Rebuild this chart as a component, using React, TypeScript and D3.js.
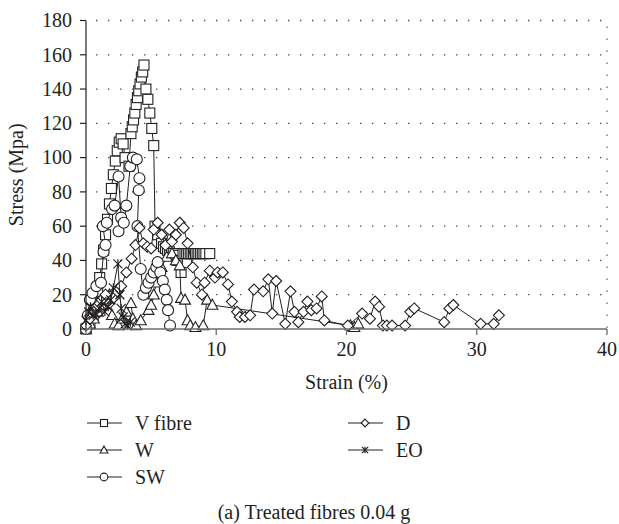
import React from 'react';
import * as d3 from 'd3';

// strain (%) / stress (MPa) pairs
const vFibre: [number, number][] = [
  [0, 0], [0.3, 3], [0.55, 8], [0.75, 15], [0.9, 22], [1.05, 30], [1.2, 38], [1.35, 46], [1.5, 55],
  [1.65, 64], [1.8, 73], [1.95, 82], [2.1, 90], [2.25, 98], [2.4, 104], [2.55, 109], [2.7, 111],
  [2.85, 108], [3.0, 100], [3.3, 95], [3.45, 114], [3.55, 118], [3.65, 122], [3.75, 126], [3.85, 131],
  [3.95, 135], [4.05, 139], [4.15, 143], [4.25, 147], [4.35, 150], [4.45, 154], [4.6, 140], [4.75, 134],
  [4.9, 126], [5.05, 117], [5.2, 107], [5.3, 60], [5.5, 55], [5.8, 50], [5.95, 48], [6.1, 47],
  [6.25, 46], [6.4, 45], [6.55, 44], [6.7, 44], [6.85, 43], [7.0, 40], [7.3, 33], [7.45, 44],
  [7.6, 44], [7.73, 44], [7.86, 44], [8.0, 44], [8.13, 44], [8.26, 44], [8.4, 44], [8.53, 44],
  [8.66, 44], [8.8, 44], [8.93, 44], [9.06, 44], [9.2, 44], [9.5, 44],
];
const w: [number, number][] = [
  [0, 0], [0.3, 3], [0.6, 6], [0.9, 10], [1.2, 14], [1.5, 17], [1.8, 20], [2.0, 8], [2.2, 3], [2.5, 2],
  [2.8, 6], [3.1, 10], [3.45, 15], [3.6, 6], [3.85, 2], [4.2, 5], [4.8, 11], [5.0, 14], [5.2, 20],
  [5.4, 27], [5.8, 36], [6.2, 42], [6.6, 44], [6.9, 40], [7.2, 37], [7.3, 18], [7.6, 17], [7.8, 5],
  [8.0, 2], [8.4, 1], [9.0, 2], [9.3, 17], [9.7, 14], [20.3, 2], [20.6, 1], [20.9, 3],
];
const sw: [number, number][] = [
  [0, 0], [0.15, 8], [0.3, 17], [0.5, 21], [0.8, 25], [1.15, 27], [1.35, 45], [1.5, 49], [1.3, 60],
  [1.6, 62], [2.0, 70], [2.2, 72], [2.5, 89], [2.7, 65], [2.5, 57], [2.9, 62], [3.1, 72], [3.4, 95],
  [3.6, 100], [3.9, 99], [4.1, 88], [4.05, 81], [3.95, 60], [4.2, 35], [4.4, 20], [4.6, 24], [4.8, 27],
  [5.0, 30], [5.2, 33], [5.4, 36], [5.5, 39], [5.7, 33], [5.9, 28], [6.05, 23], [6.2, 17], [6.3, 11],
  [6.45, 2],
];
const dSeries: [number, number][] = [
  [0, 2], [0.3, 6], [0.6, 10], [0.9, 14], [1.2, 17], [1.5, 20], [1.8, 15], [2.1, 18], [2.4, 22],
  [2.7, 25], [3.1, 33], [3.5, 41], [3.8, 49], [4.1, 59], [4.4, 50], [4.7, 48], [5.0, 47], [5.2, 58],
  [5.5, 62], [5.8, 55], [6.1, 49], [6.4, 58], [6.6, 51], [6.9, 55], [7.2, 62], [7.5, 59], [7.8, 50],
  [8.2, 36], [8.5, 27], [8.9, 20], [9.1, 27], [9.5, 34], [9.9, 30], [10.1, 33], [10.5, 33], [10.9, 26],
  [11.2, 16], [11.6, 10], [11.8, 7], [12.2, 7], [12.6, 8], [12.9, 23], [13.6, 22], [14.0, 29],
  [14.3, 9], [14.6, 28], [15.3, 3], [15.7, 22], [16.0, 10], [16.3, 4], [16.7, 10], [17.0, 16],
  [17.3, 11], [17.7, 12], [18.1, 19], [18.3, 5], [20.1, 2], [21.2, 9], [21.8, 6], [22.2, 16],
  [22.5, 13], [22.8, 2], [23.1, 2], [23.5, 2], [24.5, 2], [24.9, 10], [25.2, 12], [27.5, 4],
  [27.9, 12], [28.2, 14], [30.3, 3], [31.3, 3], [31.7, 8],
];
const eo: [number, number][] = [
  [0, 5], [0.2, 10], [0.35, 13], [0.55, 8], [0.75, 9], [1.0, 12], [1.2, 16], [1.45, 10], [1.7, 13],
  [1.9, 17], [2.1, 24], [2.45, 38], [2.6, 20], [2.7, 12], [2.85, 7], [3.0, 3], [3.2, 2], [3.4, 4],
];

const seriesNames = ['V fibre', 'W', 'SW', 'D', 'EO'];
const seriesData = [vFibre, w, sw, dSeries, eo];
const seriesMarkers = ['square', 'triangle', 'circle', 'diamond', 'star'];

const xTicks = [0, 10, 20, 30, 40];
const yTicks = [0, 20, 40, 60, 80, 100, 120, 140, 160, 180];

const ink = '#231f20';
const font = "'Liberation Serif', 'DejaVu Serif', serif";

const Marker = ({ kind, x, y, s }: { kind: string; x: number; y: number; s: number }) => {
  const h = s / 2;
  if (kind === 'square')
    return <rect x={x - h} y={y - h} width={s} height={s} fill="#fff" stroke={ink} strokeWidth={1.1} />;
  if (kind === 'circle')
    return <circle cx={x} cy={y} r={h * 1.1} fill="#fff" stroke={ink} strokeWidth={1.1} />;
  if (kind === 'diamond')
    return <path d={`M${x},${y - h * 1.1}L${x + h * 1.1},${y}L${x},${y + h * 1.1}L${x - h * 1.1},${y}Z`} fill="#fff" stroke={ink} strokeWidth={1.1} />;
  if (kind === 'triangle')
    return <path d={`M${x},${y - h * 1.15}L${x + h * 1.1},${y + h * 0.85}L${x - h * 1.1},${y + h * 0.85}Z`} fill="#fff" stroke={ink} strokeWidth={1.1} />;
  // asterisk
  const r = h * 0.9;
  return (
    <g stroke={ink} strokeWidth={1.2}>
      <line x1={x - r} y1={y - r} x2={x + r} y2={y + r} />
      <line x1={x - r} y1={y + r} x2={x + r} y2={y - r} />
      <line x1={x} y1={y - r} x2={x} y2={y + r} />
    </g>
  );
};

const App = () => {
  const width = 619;
  const height = 524;
  const margin = { top: 20.5, right: 12, bottom: 195, left: 86 };
  const chartW = width - margin.left - margin.right;
  const chartH = height - margin.top - margin.bottom;
  const fs = 20;

  const xScale = d3.scaleLinear().domain([0, 40]).range([0, chartW]);
  const yScale = d3.scaleLinear().domain([0, 180]).range([chartH, 0]);
  const line = d3.line<[number, number]>().x(d => xScale(d[0])).y(d => yScale(d[1]));

  const legendRows = [
    { x: 87, y: 423 }, { x: 87, y: 450 }, { x: 87, y: 477 }, { x: 348, y: 423 }, { x: 348, y: 450 },
  ];

  return (
    <svg width={width} height={height} style={{ position: 'absolute', left: 0, top: 0, background: '#fff', fontFamily: font }}>
      <g transform={`translate(${margin.left},${margin.top})`}>
        {/* dotted grid */}
        {yTicks.filter(t => t > 0).map(t =>
          <line key={`g-${t}`} x1={0} x2={chartW} y1={yScale(t)} y2={yScale(t)} stroke="#444" strokeWidth={1.3} strokeDasharray="1.3,10.7" strokeDashoffset={-10} />
        )}
        <line x1={chartW} x2={chartW} y1={0} y2={chartH} stroke="#444" strokeWidth={1.3} strokeDasharray="1.3,10.7" strokeDashoffset={-6} />

        {/* series */}
        {seriesData.map((data, i) =>
          <g key={`s-${i}`}>
            <path d={line(data) || ''} fill="none" stroke={ink} strokeWidth={1} />
            {data.map((d, j) =>
              <Marker key={j} kind={seriesMarkers[i]} x={xScale(d[0])} y={yScale(d[1])} s={10} />
            )}
          </g>
        )}

        {/* axes */}
        <line x1={0} x2={0} y1={0} y2={chartH} stroke={ink} strokeWidth={1.2} />
        <line x1={0} x2={chartW} y1={chartH} y2={chartH} stroke="#6d6d6d" strokeWidth={1.6} />
        {yTicks.map(t =>
          <g key={`y-${t}`}>
            <line x1={-6} x2={0} y1={yScale(t)} y2={yScale(t)} stroke={ink} strokeWidth={1.2} />
            <text x={-14} y={yScale(t)} dy="0.34em" textAnchor="end" fontSize={fs} fill={ink} style={{ fontFamily: font }}>{t}</text>
          </g>
        )}
        {xTicks.map(t =>
          <g key={`x-${t}`}>
            <line x1={xScale(t)} x2={xScale(t)} y1={chartH} y2={chartH + 6} stroke="#6d6d6d" strokeWidth={1.3} />
            <text x={xScale(t)} y={chartH + 27} textAnchor="middle" fontSize={fs} fill={ink} style={{ fontFamily: font }}>{t}</text>
          </g>
        )}
        <text x={chartW / 2} y={chartH + 60} textAnchor="middle" fontSize={fs} fill={ink} style={{ fontFamily: font }}>Strain (%)</text>
        <text transform={`translate(${-63},${chartH / 2}) rotate(-90)`} textAnchor="middle" fontSize={fs} fill={ink} style={{ fontFamily: font }}>Stress (Mpa)</text>
      </g>

      {/* legend */}
      {seriesNames.map((name, i) =>
        <g key={`l-${i}`}>
          <line x1={legendRows[i].x} x2={legendRows[i].x + 35} y1={legendRows[i].y} y2={legendRows[i].y} stroke={ink} strokeWidth={1} />
          <Marker kind={seriesMarkers[i]} x={legendRows[i].x + 17} y={legendRows[i].y} s={7} />
          <text x={legendRows[i].x + 48} y={legendRows[i].y} dy="0.34em" fontSize={fs} fill={ink} style={{ fontFamily: font }}>{name}</text>
        </g>
      )}
      <text x={314} y={512} dy="0.34em" textAnchor="middle" fontSize={fs} fill={ink} style={{ fontFamily: font }}>(a)  Treated fibres 0.04 g</text>
    </svg>
  );
};

export default App;
